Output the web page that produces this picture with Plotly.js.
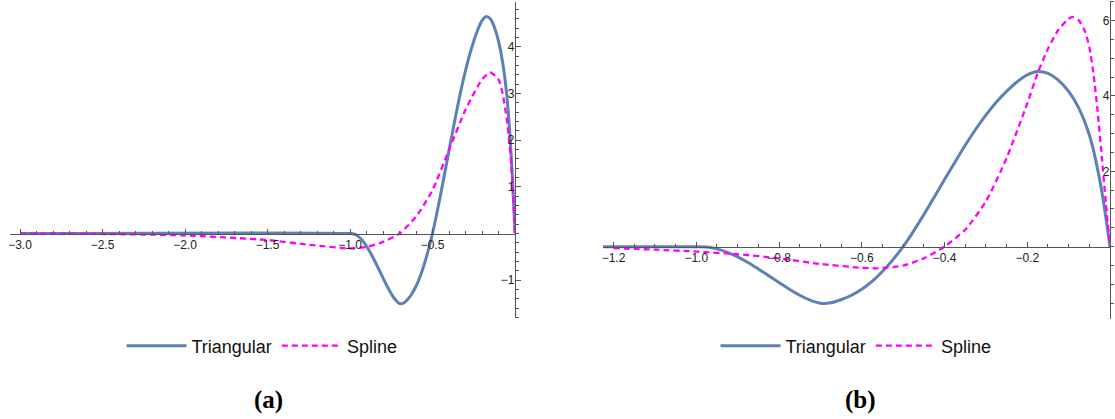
<!DOCTYPE html>
<html>
<head>
<meta charset="utf-8">
<script src="https://cdn.plot.ly/plotly-3.0.1.min.js"></script>
<style>
html,body{margin:0;padding:0;background:#fff;}
#chart{width:1115px;height:419px;}
</style>
</head>
<body>
<div id="chart"></div>
<script>
// ---------- data ----------
const triX = [-3.0, -1.0, -0.975, -0.95, -0.925, -0.9, -0.875, -0.85, -0.825, -0.8, -0.775, -0.75, -0.725, -0.7, -0.675, -0.65, -0.625, -0.6, -0.575, -0.55, -0.525, -0.5, -0.475, -0.45, -0.425, -0.4, -0.375, -0.35, -0.325, -0.3, -0.275, -0.25, -0.225, -0.2, -0.175, -0.15, -0.125, -0.1, -0.075, -0.05, -0.025, 0];
const triY = [0, 0, -0.01, -0.06, -0.15, -0.27, -0.42, -0.59, -0.77, -0.95, -1.13, -1.29, -1.42, -1.50, -1.49, -1.41, -1.29, -1.13, -0.92, -0.66, -0.35, 0.0, 0.41, 0.85, 1.31, 1.78, 2.24, 2.69, 3.11, 3.49, 3.83, 4.12, 4.37, 4.56, 4.65, 4.60, 4.42, 4.12, 3.67, 2.97, 1.78, 0];

const splineAX = [-3.0, -2.5, -2.0, -1.5, -1.25, -1.0, -0.9, -0.8, -0.7, -0.6, -0.5, -0.4, -0.3, -0.2, -0.15, -0.1, -0.075, -0.05, -0.036, -0.025, -0.014, 0];
const splineAY = [0, -0.01, -0.04, -0.14, -0.24, -0.32, -0.29, -0.18, 0.0, 0.36, 0.93, 1.79, 2.65, 3.30, 3.45, 3.30, 3.00, 2.45, 2.00, 1.60, 1.00, 0];

const splineBX = [-1.2, -1.1, -1.0, -0.9, -0.8, -0.7, -0.6, -0.56, -0.5, -0.45, -0.4, -0.35, -0.3, -0.25, -0.2, -0.175, -0.15, -0.125, -0.1, -0.09, -0.075, -0.06, -0.05, -0.04, -0.03, -0.02, -0.01, 0];
const splineBY = [-0.04, -0.08, -0.13, -0.2, -0.31, -0.46, -0.56, -0.575, -0.5, -0.31, 0, 0.45, 1.2, 2.35, 3.8, 4.6, 5.25, 5.75, 6.05, 6.1, 6.0, 5.7, 5.3, 4.6, 3.6, 2.4, 1.15, 0];

const seriesNames = ["Triangular", "Spline"];
const panelLabels = ["(a)", "(b)"];

const aXTickVals = [-3, -2.5, -2, -1.5, -1, -0.5];
const aXTickText = ["\u22123.0", "\u22122.5", "\u22122.0", "\u22121.5", "\u22121.0", "\u22120.5"];
const aYTickVals = [-1, 1, 2, 3, 4];
const aYTickText = ["\u22121", "1", "2", "3", "4"];
const bXTickVals = [-1.2, -1.0, -0.8, -0.6, -0.4, -0.2];
const bXTickText = ["\u22121.2", "\u22121.0", "\u22120.8", "\u22120.6", "\u22120.4", "\u22120.2"];
const bYTickVals = [2, 4, 6];
const bYTickText = ["2", "4", "6"];

// ---------- layout geometry (pixels) ----------
const W = 1115, H = 419;
const A = {x0: 10, x1: 515, y0: 2, y1: 318, xr: [-3.0606, 0], yr: [-1.81, 4.96]};
const B = {x0: 603, x1: 1110, y0: 1, y1: 319, xr: [-1.2254, 0], yr: [-1.92, 6.52]};

function dom(p) {
  return {
    xd: [p.x0 / W, p.x1 / W],
    yd: [1 - p.y1 / H, 1 - p.y0 / H]
  };
}
function zeroPos(range, d) {
  return d[0] + (0 - range[0]) / (range[1] - range[0]) * (d[1] - d[0]);
}
const dA = dom(A), dB = dom(B);

const blue = "#5E81B5", mag = "#FF00FF", axc = "#555555", lab = "#222222";
const tickFont = {family: "Liberation Sans, Arial, sans-serif", size: 12, color: lab};

function xAxis(p, d, tv, tt, minorDt) {
  return {
    domain: d.xd, range: p.xr, anchor: "free",
    position: zeroPos(p.yr, d.yd),
    showline: true, linecolor: axc, linewidth: 1,
    showgrid: false, zeroline: false,
    ticks: "inside", ticklen: 5, tickcolor: axc, tickwidth: 1,
    tickmode: "array", tickvals: tv, ticktext: tt,
    tickfont: tickFont,
    minor: {tickmode: "linear", tick0: 0, dtick: minorDt, ticks: "inside", ticklen: 3, tickcolor: axc, tickwidth: 1, showgrid: false},
    fixedrange: true
  };
}
function yAxis(p, d, tv, tt, minorDt) {
  return {
    domain: d.yd, range: p.yr, anchor: "free",
    position: d.xd[1], side: "right",
    showline: true, linecolor: axc, linewidth: 1,
    showgrid: false, zeroline: false,
    ticks: "outside", ticklen: 5, tickcolor: axc, tickwidth: 1,
    ticklabelposition: "inside",
    tickmode: "array", tickvals: tv, ticktext: tt,
    tickfont: tickFont,
    minor: {tickmode: "linear", tick0: 0, dtick: minorDt, ticks: "outside", ticklen: 3, tickcolor: axc, tickwidth: 1, showgrid: false},
    fixedrange: true
  };
}

const solidLine = {color: blue, width: 3, shape: "spline", smoothing: 1};
const dashLine = {color: mag, width: 2.3, dash: "6px,4px", shape: "spline", smoothing: 0.6};

const traces = [
  {x: triX, y: triY, xaxis: "x", yaxis: "y", type: "scatter", mode: "lines", name: seriesNames[0], line: solidLine, legend: "legend"},
  {x: splineAX, y: splineAY, xaxis: "x", yaxis: "y", type: "scatter", mode: "lines", name: seriesNames[1], line: dashLine, legend: "legend"},
  {x: triX, y: triY, xaxis: "x2", yaxis: "y2", type: "scatter", mode: "lines", name: seriesNames[0], line: solidLine, legend: "legend2"},
  {x: splineBX, y: splineBY, xaxis: "x2", yaxis: "y2", type: "scatter", mode: "lines", name: seriesNames[1], line: dashLine, legend: "legend2"}
];

const legFont = {family: "Liberation Sans, Arial, sans-serif", size: 18, color: "#111"};
function legendAt(cx) {
  return {
    orientation: "h", x: cx / W, xanchor: "center", y: 1 - 346 / H, yanchor: "middle",
    font: legFont, bgcolor: "rgba(0,0,0,0)", itemwidth: 60, tracegroupgap: 0
  };
}

const labFont = {family: "Liberation Serif, serif", size: 25, color: "#000"};
const layout = {
  width: W, height: H,
  margin: {l: 0, r: 0, t: 0, b: 0, pad: 0},
  paper_bgcolor: "#fff", plot_bgcolor: "#fff",
  showlegend: true,
  xaxis: xAxis(A, dA, aXTickVals, aXTickText, 0.1),
  yaxis: yAxis(A, dA, aYTickVals, aYTickText, 0.2),
  xaxis2: xAxis(B, dB, bXTickVals, bXTickText, 0.05),
  yaxis2: yAxis(B, dB, bYTickVals, bYTickText, 0.5),
  legend: legendAt(262),
  legend2: legendAt(856),
  annotations: [
    {text: "<b>" + panelLabels[0] + "</b>", xref: "paper", yref: "paper", x: 268 / W, y: 1 - 400 / H, xanchor: "center", yanchor: "middle", showarrow: false, font: labFont},
    {text: "<b>" + panelLabels[1] + "</b>", xref: "paper", yref: "paper", x: 860 / W, y: 1 - 400 / H, xanchor: "center", yanchor: "middle", showarrow: false, font: labFont}
  ]
};

Plotly.newPlot("chart", traces, layout, {staticPlot: true, displayModeBar: false});
</script>
</body>
</html>
